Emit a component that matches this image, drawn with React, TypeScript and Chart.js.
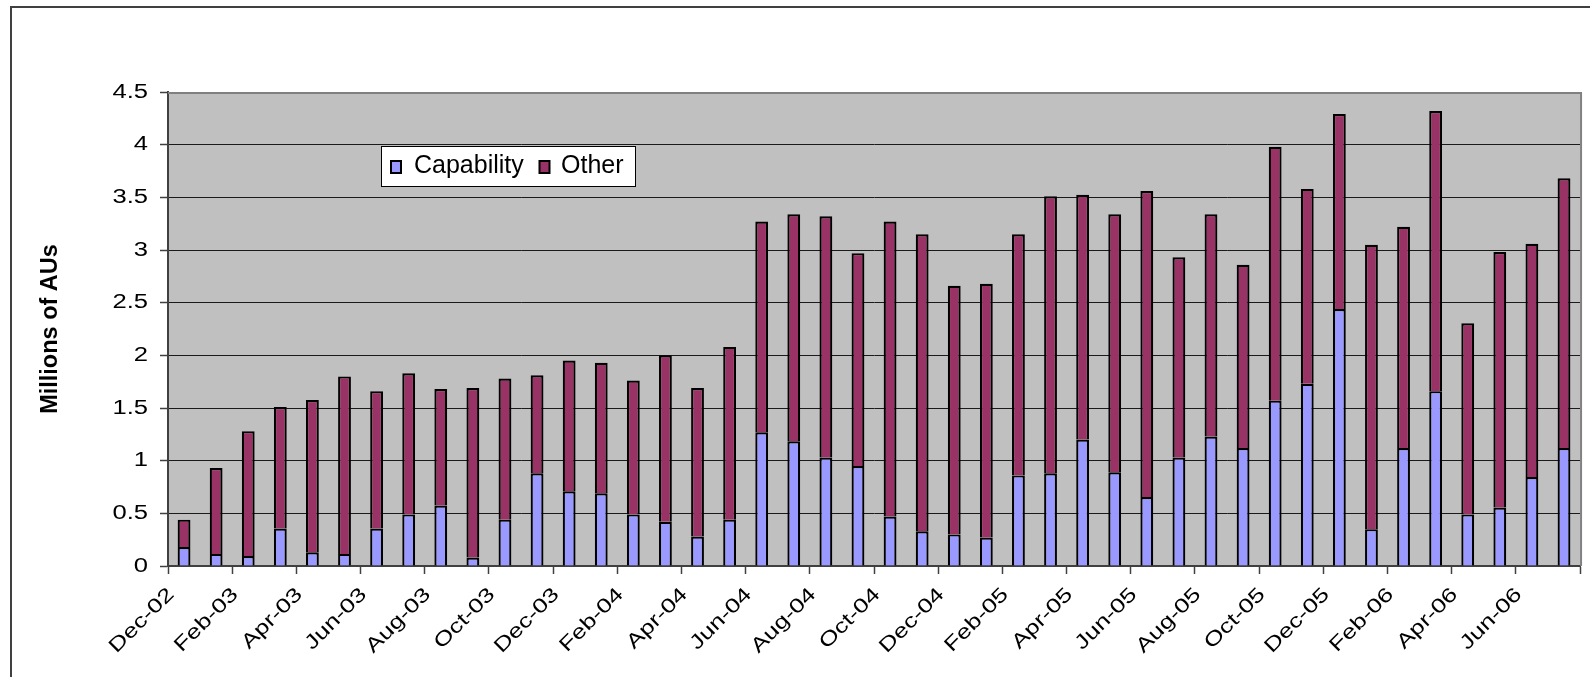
import React, { useEffect, useRef } from 'react';
import { Chart, registerables } from 'chart.js';

Chart.register(...registerables);

// ---------- data ----------
const months = [
  'Dec-02', 'Jan-03', 'Feb-03', 'Mar-03', 'Apr-03', 'May-03', 'Jun-03', 'Jul-03', 'Aug-03', 'Sep-03', 'Oct-03', 'Nov-03',
  'Dec-03', 'Jan-04', 'Feb-04', 'Mar-04', 'Apr-04', 'May-04', 'Jun-04', 'Jul-04', 'Aug-04', 'Sep-04', 'Oct-04', 'Nov-04',
  'Dec-04', 'Jan-05', 'Feb-05', 'Mar-05', 'Apr-05', 'May-05', 'Jun-05', 'Jul-05', 'Aug-05', 'Sep-05', 'Oct-05', 'Nov-05',
  'Dec-05', 'Jan-06', 'Feb-06', 'Mar-06', 'Apr-06', 'May-06', 'Jun-06', 'Jul-06',
];

const capability = [
  0.18, 0.115, 0.095, 0.355, 0.13, 0.115, 0.355, 0.49, 0.575, 0.08, 0.44, 0.88,
  0.71, 0.69, 0.49, 0.42, 0.28, 0.44, 1.27, 1.185, 1.03, 0.95, 0.47, 0.33,
  0.3, 0.27, 0.86, 0.88, 1.2, 0.89, 0.655, 1.03, 1.23, 1.12, 1.57, 1.73,
  2.44, 0.35, 1.12, 1.66, 0.49, 0.555, 0.845, 1.12,
];

const other = [
  0.26, 0.815, 1.185, 1.155, 1.445, 1.685, 1.305, 1.34, 1.105, 1.61, 1.34, 0.93,
  1.24, 1.24, 1.27, 1.58, 1.41, 1.64, 2.0, 2.155, 2.29, 2.02, 2.8, 2.82,
  2.36, 2.41, 2.29, 2.63, 2.325, 2.45, 2.905, 1.9, 2.11, 1.74, 2.41, 1.85,
  1.85, 2.7, 2.1, 2.66, 1.815, 2.425, 2.215, 2.56,
];

const seriesLabels = ['Capability', 'Other'];
const seriesColors = ['#9999FF', '#993366'];

const yMin = 0;
const yMax = 4.5;
const yStep = 0.5;
const yTickLabels = ['0', '0.5', '1', '1.5', '2', '2.5', '3', '3.5', '4', '4.5'];
const yTitle = 'Millions of AUs';
// every second month is labelled on the axis
const xLabelEvery = 2;

// ---------- styling ----------
const FONT = 'Arial, "Liberation Sans", sans-serif';
const TICK_SIZE = 20;
const TICK_STRETCH = 1.28;

function patchStretch(ctx: any) {
  if (ctx.__stretchPatched) return;
  ctx.__stretchPatched = true;
  const orig = ctx.fillText;
  ctx.fillText = function (text: string, x: number, y: number, maxWidth?: number) {
    const f: string = this.font || '';
    if (/(^|\s)20px/.test(f) && !/bold/.test(f)) {
      this.save();
      this.translate(x, y);
      this.scale(TICK_STRETCH, 1);
      if (maxWidth === undefined) orig.call(this, text, 0, 0);
      else orig.call(this, text, 0, 0, maxWidth / TICK_STRETCH);
      this.restore();
    } else if (maxWidth === undefined) {
      orig.call(this, text, x, y);
    } else {
      orig.call(this, text, x, y, maxWidth);
    }
  };
}

const decorPlugin = {
  id: 'decor',
  beforeDraw(chart: any) {
    const { ctx, chartArea: a, width, height } = chart;
    ctx.save();
    ctx.fillStyle = '#ffffff';
    ctx.fillRect(0, 0, width, height);
    ctx.strokeStyle = '#404040';
    ctx.lineWidth = 2;
    ctx.beginPath();
    ctx.moveTo(11, height + 4);
    ctx.lineTo(11, 7);
    ctx.lineTo(width + 4, 7);
    ctx.stroke();
    ctx.fillStyle = '#C0C0C0';
    ctx.fillRect(a.left, a.top, a.right - a.left, a.bottom - a.top);
    ctx.restore();
  },
  beforeDatasetsDraw(chart: any) {
    const { ctx, chartArea: a } = chart;
    ctx.save();
    ctx.strokeStyle = '#808080';
    ctx.lineWidth = 2;
    ctx.beginPath();
    ctx.moveTo(a.left, a.top + 1);
    ctx.lineTo(a.right + 1, a.top + 1);
    ctx.lineTo(a.right + 1, a.bottom);
    ctx.stroke();
    ctx.restore();
  },
  afterDraw(chart: any) {
    const { ctx } = chart;
    const box = { x: 381, y: 146, w: 255, h: 41 };
    const items = [
      { sq: 391, tx: 414 },
      { sq: 539.5, tx: 561 },
    ];
    ctx.save();
    ctx.fillStyle = '#ffffff';
    ctx.fillRect(box.x, box.y, box.w, box.h);
    ctx.strokeStyle = '#000000';
    ctx.lineWidth = 1;
    ctx.strokeRect(box.x + 0.5, box.y + 0.5, box.w - 1, box.h - 1);
    ctx.font = '25px ' + FONT;
    ctx.textBaseline = 'alphabetic';
    ctx.textAlign = 'left';
    chart.data.datasets.forEach((ds: any, i: number) => {
      const it = items[i];
      ctx.fillStyle = ds.backgroundColor;
      ctx.fillRect(it.sq, 161, 10, 12);
      ctx.lineWidth = 2;
      ctx.strokeStyle = '#000000';
      ctx.strokeRect(it.sq, 161, 10, 12);
      ctx.fillStyle = '#000000';
      ctx.fillText(ds.label, it.tx, 172.5);
    });
    ctx.restore();
  },
};

export default function App() {
  const ref = useRef<HTMLCanvasElement>(null);

  useEffect(() => {
    const canvas = ref.current;
    if (!canvas) return;
    const ctx = canvas.getContext('2d');
    patchStretch(ctx);

    const chart = new Chart(canvas, {
      type: 'bar',
      data: {
        labels: months,
        datasets: [
          {
            label: seriesLabels[0],
            data: capability,
            backgroundColor: seriesColors[0],
            borderColor: '#000000',
            borderWidth: 2.2,
            barPercentage: 0.4,
            categoryPercentage: 1,
          },
          {
            label: seriesLabels[1],
            data: other,
            backgroundColor: seriesColors[1],
            borderColor: '#000000',
            borderWidth: 2.2,
            barPercentage: 0.4,
            categoryPercentage: 1,
          },
        ],
      },
      options: {
        animation: false,
        responsive: true,
        maintainAspectRatio: false,
        layout: { padding: { top: 92, right: 2, left: 0, bottom: 0 } },
        plugins: {
          legend: { display: false },
          tooltip: { enabled: false },
        },
        scales: {
          x: {
            stacked: true,
            offset: true,
            grid: {
              offset: true,
              drawOnChartArea: false,
              drawTicks: true,
              tickLength: 8,
              tickWidth: 1.5,
              tickColor: (c: any) =>
                c.type !== 'tick' || c.index % xLabelEvery === 0 ? '#404040' : 'rgba(0,0,0,0)',
            },
            border: { display: true, color: '#404040', width: 2 },
            ticks: {
              autoSkip: false,
              minRotation: 45,
              maxRotation: 45,
              labelOffset: -13,
              padding: 9,
              color: '#000000',
              font: { family: FONT, size: TICK_SIZE },
              callback: (_v: any, i: number) => (i % xLabelEvery === 0 ? months[i] : ''),
            },
            afterFit: (s: any) => {
              s.height = 111;
            },
          },
          y: {
            stacked: true,
            min: yMin,
            max: yMax,
            ticks: {
              stepSize: yStep,
              padding: 12,
              color: '#000000',
              font: { family: FONT, size: TICK_SIZE },
              callback: (_v: any, i: number) => yTickLabels[i],
            },
            grid: {
              color: (c: any) => (c.tick && c.tick.value === yMax ? '#808080' : '#1a1a1a'),
              lineWidth: 1,
              drawTicks: true,
              tickLength: 8,
              tickWidth: 1.5,
              tickColor: '#404040',
            },
            border: { display: true, color: '#404040', width: 2 },
            title: {
              display: true,
              text: yTitle,
              color: '#000000',
              font: { family: FONT, size: 23.5, weight: 'bold' },
              padding: { top: 36, bottom: 0 },
            },
            afterFit: (s: any) => {
              s.width = 168;
            },
          },
        },
      },
      plugins: [decorPlugin],
    } as any);

    return () => chart.destroy();
  }, []);

  return (
    <div style={{ position: 'fixed', left: 0, top: 0, width: 1590, height: 677, background: '#ffffff' }}>
      <canvas ref={ref} style={{ display: 'block' }} />
    </div>
  );
}
